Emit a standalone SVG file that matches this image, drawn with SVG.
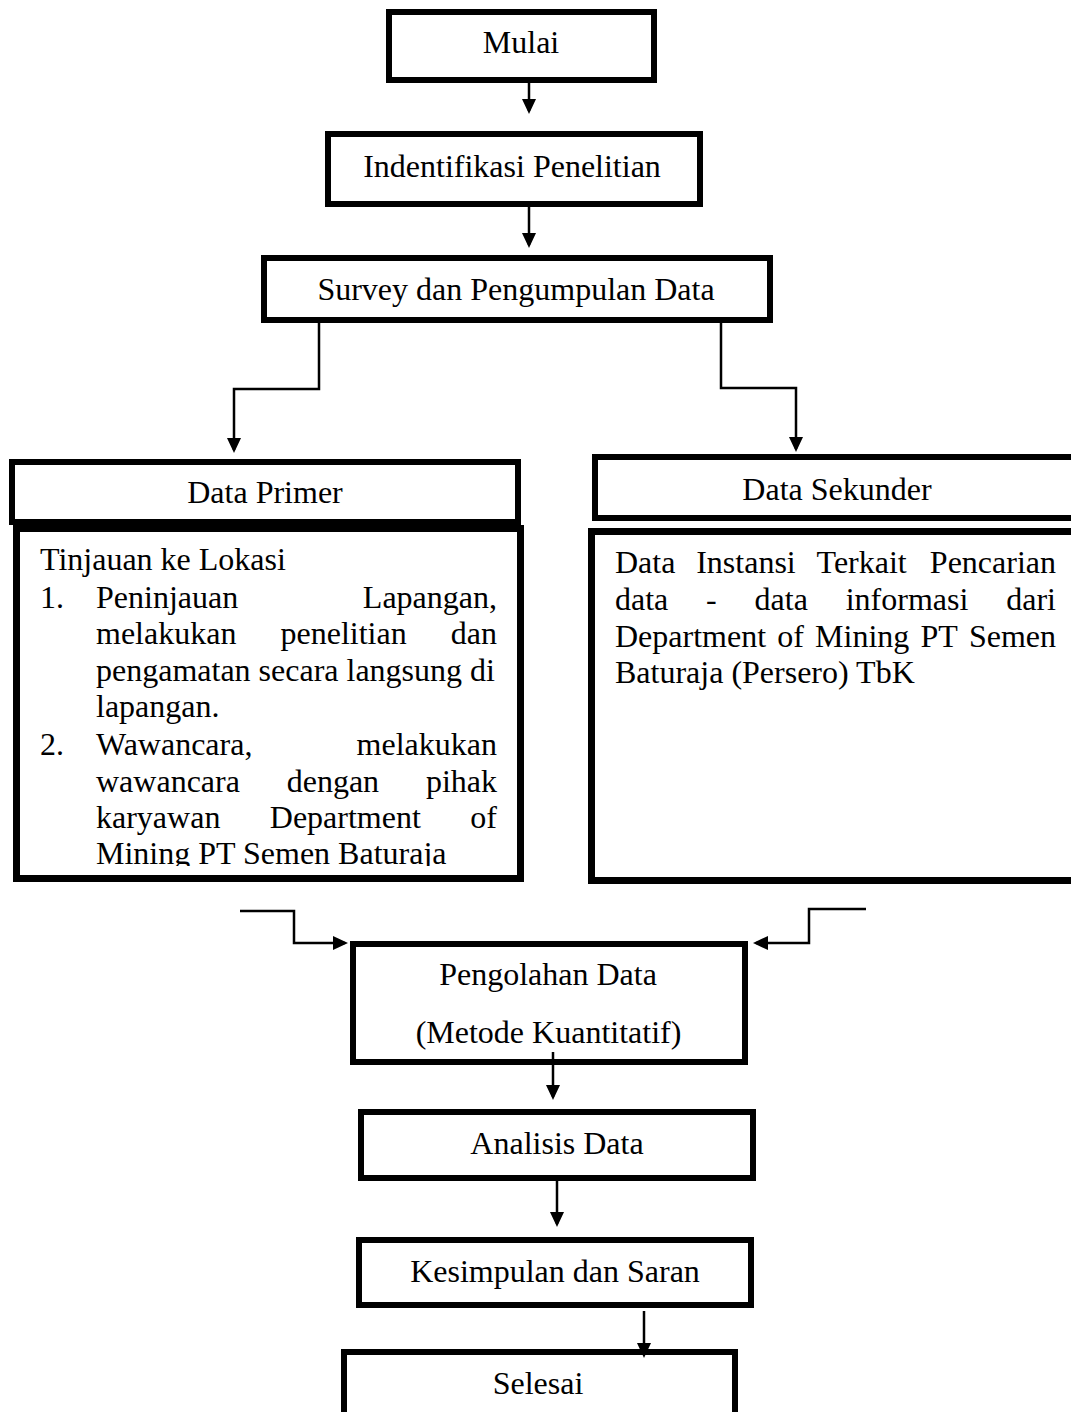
<svg xmlns="http://www.w3.org/2000/svg" width="1071" height="1412" viewBox="0 0 1071 1412">
<style>
.box{fill:#fff;stroke:#000;stroke-width:6}
.box7{fill:#fff;stroke:#000;stroke-width:7}
.t{font-family:"Liberation Serif","Times New Roman",serif;font-size:32px;fill:#000}
.c{text-anchor:middle}
.e{text-anchor:end}
.conn{fill:none;stroke:#000;stroke-width:2.5}
</style>
<defs>
<marker id="ah" markerWidth="15" markerHeight="14" refX="12" refY="7" orient="auto" markerUnits="userSpaceOnUse">
<path d="M0,0 L15,7 L0,14 z" fill="#000"/>
</marker>
<clipPath id="clipL"><rect x="19" y="530" width="500" height="336"/></clipPath>
</defs>
<rect width="1071" height="1412" fill="#fff"/>

<g id="n-mulai">
<rect class="box" x="389" y="12" width="265" height="68"/>
<text class="t c" x="521" y="53">Mulai</text>
</g>
<g id="n-identifikasi">
<rect class="box" x="328" y="134" width="372" height="70"/>
<text class="t c" x="512" y="177">Indentifikasi Penelitian</text>
</g>
<g id="n-survey">
<rect class="box" x="264" y="258" width="506" height="62"/>
<text class="t c" x="516" y="300">Survey dan Pengumpulan Data</text>
</g>
<g id="n-primer">
<rect class="box" x="12" y="462" width="506" height="60"/>
<text class="t c" x="265" y="503">Data Primer</text>
</g>
<g id="n-primer-isi">
<rect class="box7" x="16.5" y="528.5" width="504" height="350"/>
<g clip-path="url(#clipL)">
<text class="t" x="40" y="570">Tinjauan ke Lokasi</text>
<text class="t" x="40" y="608">1.</text>
<text class="t" x="96" y="608">Peninjauan</text>
<text class="t e" x="497" y="608">Lapangan,</text>
<text class="t" x="96" y="644">melakukan</text>
<text class="t" x="280.5" y="644">penelitian</text>
<text class="t e" x="497" y="644">dan</text>
<text class="t" x="96" y="681">pengamatan secara langsung di</text>
<text class="t" x="96" y="717">lapangan.</text>
<text class="t" x="40" y="755">2.</text>
<text class="t" x="96" y="755">Wawancara,</text>
<text class="t e" x="497" y="755">melakukan</text>
<text class="t" x="96" y="792">wawancara</text>
<text class="t" x="286.7" y="792">dengan</text>
<text class="t e" x="497" y="792">pihak</text>
<text class="t" x="96" y="828">karyawan</text>
<text class="t" x="269.8" y="828">Department</text>
<text class="t e" x="497" y="828">of</text>
<text class="t" x="96" y="864">Mining PT Semen Baturaja</text>
</g>
</g>
<g id="n-sekunder">
<rect class="box" x="595" y="457" width="490" height="61"/>
<text class="t c" x="837" y="500">Data Sekunder</text>
</g>
<g id="n-sekunder-isi">
<rect class="box7" x="591.5" y="531.5" width="500" height="349"/>
<text class="t" x="615" y="573">Data</text>
<text class="t" x="696.2" y="573">Instansi</text>
<text class="t" x="816.6" y="573">Terkait</text>
<text class="t e" x="1056" y="573">Pencarian</text>
<text class="t" x="615" y="610">data</text>
<text class="t" x="706.1" y="610">-</text>
<text class="t" x="754.6" y="610">data</text>
<text class="t" x="845.7" y="610">informasi</text>
<text class="t e" x="1056" y="610">dari</text>
<text class="t" x="615" y="647">Department</text>
<text class="t" x="777.2" y="647">of</text>
<text class="t" x="815.1" y="647">Mining</text>
<text class="t" x="920.4" y="647">PT</text>
<text class="t e" x="1056" y="647">Semen</text>
<text class="t" x="615" y="683">Baturaja (Persero) TbK</text>
</g>
<g id="n-pengolahan">
<rect class="box" x="353" y="944" width="392" height="118"/>
<text class="t c" x="548" y="985">Pengolahan Data</text>
<text class="t c" x="548.5" y="1043">(Metode Kuantitatif)</text>
</g>
<g id="n-analisis">
<rect class="box" x="361" y="1112" width="392" height="66"/>
<text class="t c" x="557" y="1154">Analisis Data</text>
</g>
<g id="n-kesimpulan">
<rect class="box" x="359" y="1240" width="392" height="65"/>
<text class="t c" x="555" y="1282">Kesimpulan dan Saran</text>
</g>
<g id="n-selesai">
<rect class="box" x="344" y="1352" width="391" height="80"/>
<text class="t c" x="538" y="1394">Selesai</text>
</g>

<g id="connectors">
<path class="conn" d="M529,83 V111" marker-end="url(#ah)"/>
<path class="conn" d="M529,207 V245" marker-end="url(#ah)"/>
<path class="conn" d="M319,323 V389 H234 V450" marker-end="url(#ah)"/>
<path class="conn" d="M721,323 V388 H796 V449" marker-end="url(#ah)"/>
<path class="conn" d="M240,911 H294 V943 H345" marker-end="url(#ah)"/>
<path class="conn" d="M866,909 H809 V943 H756" marker-end="url(#ah)"/>
<path class="conn" d="M553,1052 V1097" marker-end="url(#ah)"/>
<path class="conn" d="M557,1181 V1224" marker-end="url(#ah)"/>
<path class="conn" d="M644,1311 V1355" marker-end="url(#ah)"/>
</g>
</svg>
